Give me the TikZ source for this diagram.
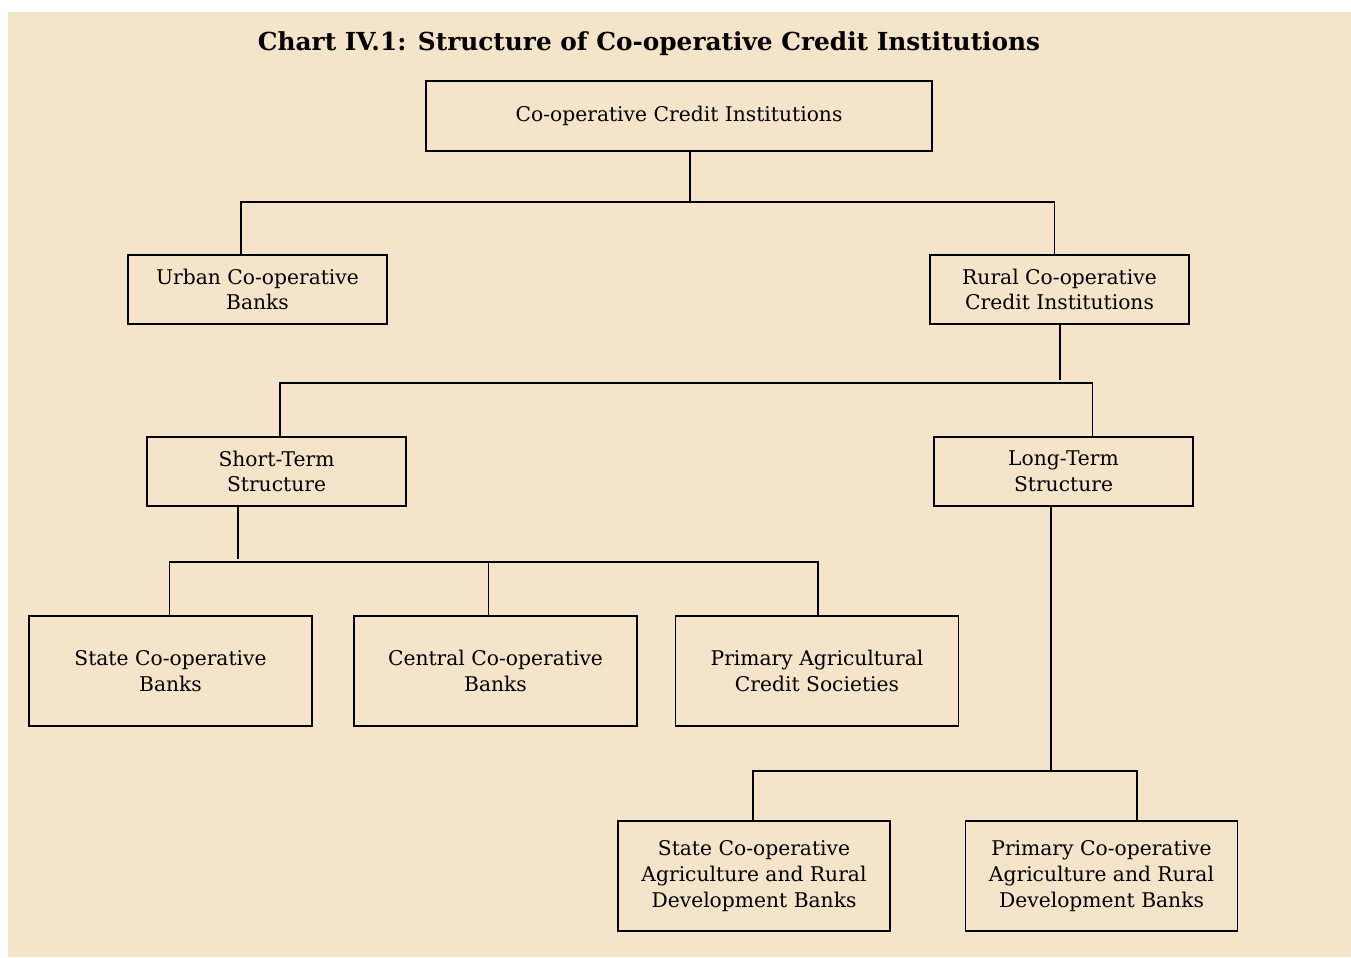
\documentclass[tikz,border=0pt]{standalone}
\usepackage{fontspec}
\setmainfont{DejaVu Serif}
\definecolor{chartbg}{RGB}{243,228,202}

\begin{document}
\begin{tikzpicture}[x=0.75pt,y=-0.75pt,
      inst/.style={rectangle,draw,line width=0.8pt,align=center,
        font=\fontsize{15.2}{19.3}\selectfont,inner sep=0pt},
      top/.style={inst,minimum width=379.5pt,minimum height=52.5pt},
      mid/.style={inst,minimum width=194.25pt,minimum height=51.75pt},
      low/.style={inst,minimum width=212.25pt,minimum height=82.5pt},
      dev/.style={inst,minimum width=204pt,minimum height=82.5pt},
      link/.style={line width=0.8pt},
      stem/.style={link,shorten >=2pt}]
      \useasboundingbox (0,0) rectangle (1351,957);
      \fill[chartbg] (8,12) rectangle (1351,957);
      % Title
      \node[font=\fontsize{18.6}{22}\selectfont\bfseries] (title) at (649,44)
        {Chart IV.1: Structure of Co-operative Credit Institutions};
      % Boxes
      \node[top] (cci) at (679,116) {Co-operative Credit Institutions};
      \node[mid] (urban) at (257.5,289.5) {Urban Co-operative\\Banks};
      \node[mid] (rural) at (1059.5,289.5) {Rural Co-operative\\Credit Institutions};
      \node[mid] (short) at (276.5,471.5) {Short-Term\\Structure};
      \node[mid] (long) at (1063.5,471.5) {Long-Term\\Structure};
      \node[low] (stcb) at (170.5,671) {State Co-operative\\Banks};
      \node[low] (dccb) at (495.5,671) {Central Co-operative\\Banks};
      \node[low] (pacs) at (817,671) {Primary Agricultural\\Credit Societies};
      \node[dev] (scardb) at (754,876) {State Co-operative\\Agriculture and Rural\\Development Banks};
      \node[dev] (pcardb) at (1101.5,876) {Primary Co-operative\\Agriculture and Rural\\Development Banks};
      % Junctions
      \coordinate (bus1) at (690,202);
      \coordinate (bus2) at (1060,383);
      \coordinate (bus3) at (238,562);
      \coordinate (bus4) at (1051,771);
      % Connectors
      \draw[link] (cci.south -| bus1) -- (bus1);
      \draw[link] ([xshift=-12.4pt]urban.north) |- (bus1) -| ([xshift=-4.1pt]rural.north);
      \draw[stem] (rural.south -| bus2) -- (bus2);
      \draw[link] ([xshift=2.6pt]short.north) |- (bus2) -| ([xshift=21.4pt]long.north);
      \draw[stem] (short.south -| bus3) -- (bus3);
      \draw[link] ([xshift=-1pt]stcb.north) |- (bus3) -| ([xshift=0.75pt]pacs.north);
      \draw[link] ([xshift=-5.6pt]dccb.north) -- ([xshift=-5.6pt]dccb.north |- bus3);
      \draw[link] (long.south -| bus4) -- (bus4);
      \draw[link] ([xshift=-0.75pt]scardb.north) |- (bus4) -| ([xshift=26.6pt]pcardb.north);
    \end{tikzpicture}
\end{document}
